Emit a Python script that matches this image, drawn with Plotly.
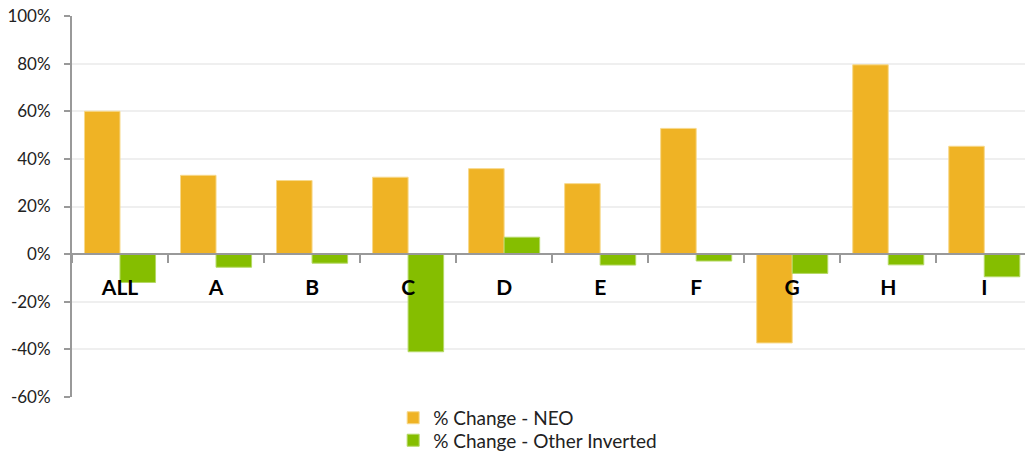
import plotly.graph_objects as go

categories = ["ALL", "A", "B", "C", "D", "E", "F", "G", "H", "I"]
neo_change = [60.0, 33.1, 30.9, 32.3, 35.9, 29.6, 52.8, -37.3, 79.5, 45.3]
other_inverted = [-11.9, -5.5, -3.8, -41.0, 7.1, -4.6, -2.9, -8.1, -4.5, -9.5]
y_ticks = [-60, -40, -20, 0, 20, 40, 60, 80, 100]
y_tick_text = [f"{v}%" for v in y_ticks]

ORANGE = "#EFB325"
GREEN = "#85BE00"
FONT = "Lato"

fig = go.Figure()
fig.add_trace(go.Bar(
    x=categories, y=neo_change, name="% Change - NEO", legend="legend",
    marker=dict(color=ORANGE, line=dict(color="#F7D98C", width=1)),
))
fig.add_trace(go.Bar(
    x=categories, y=other_inverted, name="% Change - Other Inverted", legend="legend2",
    marker=dict(color=GREEN, line=dict(color="#B5D866", width=1)),
))

y_min, y_max = -60, 100
zero_pos = (0 - y_min) / (y_max - y_min)

legend_style = dict(
    orientation="v", x=0.337, xanchor="left", yanchor="top",
    font=dict(family=FONT, size=19, color="#222"),
    bgcolor="rgba(0,0,0,0)",
)

fig.update_layout(
    width=1025, height=455,
    margin=dict(l=72, r=0, t=16, b=58, autoexpand=False),
    paper_bgcolor="white", plot_bgcolor="white",
    barmode="group", bargap=0.26, bargroupgap=0,
    font=dict(family=FONT, size=17, color="#222"),
    showlegend=True,
    legend=dict(legend_style, y=-0.005),
    legend2=dict(legend_style, y=-0.064),
    xaxis=dict(
        type="category", range=[-0.5, 9.424],
        anchor="free", position=zero_pos,
        showline=True, linecolor="#999", linewidth=2,
        ticks="outside", tickson="boundaries", ticklen=8, tickwidth=2, tickcolor="#999",
        tickfont=dict(family=FONT, size=21, color="#000", weight="bold"),
        ticklabelstandoff=15,
        showgrid=False, zeroline=False,
    ),
    yaxis=dict(
        range=[y_min, y_max], tickvals=y_ticks, ticktext=y_tick_text,
        showline=True, linecolor="#999", linewidth=2,
        ticks="outside", ticklen=6, tickwidth=2, tickcolor="#999",
        showgrid=True, gridcolor="#EFEFEF", gridwidth=1.5,
        zeroline=False,
        tickfont=dict(family=FONT, size=17, color="#222"),
        ticklabelstandoff=10,
    ),
)

fig.write_html("out.html")
